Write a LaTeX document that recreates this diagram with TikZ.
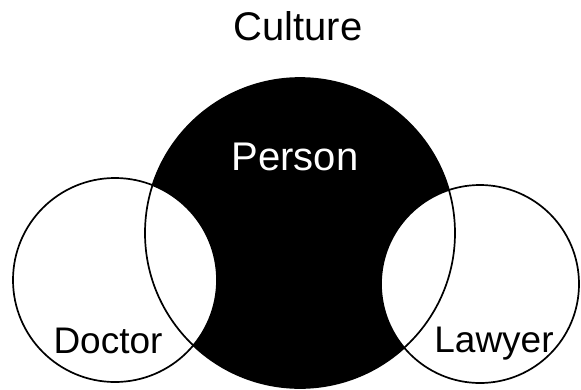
\documentclass[tikz,border=0pt]{standalone}
\usepackage{fontspec}
\setmainfont{Liberation Sans}
\begin{document}
\begin{tikzpicture}[x=1pt,y=-1pt,
  ring/.style={draw=black,line width=1.7pt},
  bigtxt/.style={font=\fontsize{40}{48}\selectfont,anchor=base,inner sep=0pt},
  smalltxt/.style={font=\fontsize{37}{44}\selectfont,anchor=base,inner sep=0pt}]
\useasboundingbox (0,0) rectangle (581,389);
\fill[black] (300,233) circle (155);
\fill[white] (115,280) circle (102);
\fill[white] (480,284) circle (99);
\draw[ring] (300,233) circle (155);
\draw[ring] (115,280) circle (102);
\draw[ring] (480,284) circle (99);
\node[bigtxt] (culture) at (298,40) {Culture};
\node[bigtxt,text=white] (person) at (295,170) {Person};
\node[smalltxt] (doctor) at (108,353) {Doctor};
\node[smalltxt] (lawyer) at (494,352) {Lawyer};
\end{tikzpicture}
\end{document}
